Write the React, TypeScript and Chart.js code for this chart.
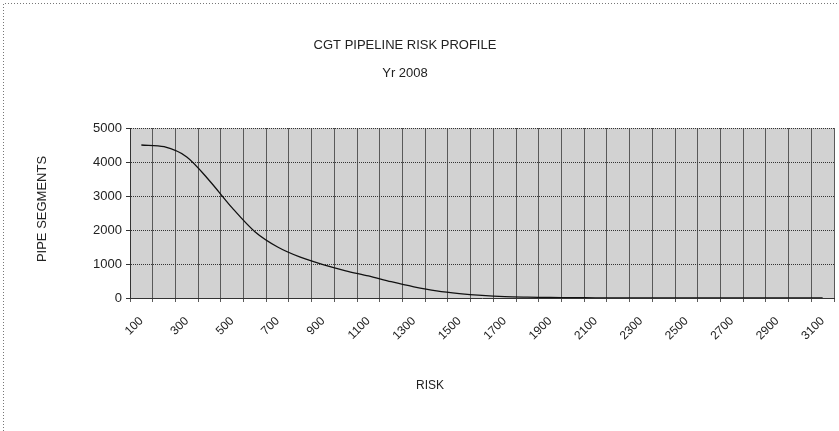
import React, { useEffect, useRef } from 'react';
import { Chart, registerables } from 'chart.js';

Chart.register(...registerables);

const riskCategories = [
  '100', '200', '300', '400', '500', '600', '700', '800', '900', '1000',
  '1100', '1200', '1300', '1400', '1500', '1600', '1700', '1800', '1900', '2000',
  '2100', '2200', '2300', '2400', '2500', '2600', '2700', '2800', '2900', '3000', '3100',
];
const pipeSegments = [
  4500, 4450, 4150, 3450, 2650, 1950, 1500, 1200, 980, 800,
  650, 480, 330, 210, 130, 75, 40, 25, 15, 10,
  5, 5, 0, 0, 0, 0, 0, 0, 0, 0, 0,
];
const yTickValues = [0, 1000, 2000, 3000, 4000, 5000];
const titleLines = ['CGT PIPELINE RISK PROFILE', 'Yr 2008'];
const xAxisTitle = 'RISK';
const yAxisTitle = 'PIPE SEGMENTS';

const FONT = "'Liberation Sans', Arial, sans-serif";

const decorPlugin = {
  id: 'decor',
  beforeDraw(chart: any) {
    const { ctx, chartArea } = chart;
    ctx.save();
    ctx.fillStyle = '#ffffff';
    ctx.fillRect(0, 0, chart.width, chart.height);
    ctx.fillStyle = '#d2d2d2';
    ctx.fillRect(chartArea.left, chartArea.top, chartArea.right - chartArea.left, chartArea.bottom - chartArea.top);
    ctx.strokeStyle = '#777';
    ctx.setLineDash([1, 2]);
    ctx.lineWidth = 1;
    ctx.beginPath();
    ctx.moveTo(3.5, chart.height);
    ctx.lineTo(3.5, 3.5);
    ctx.lineTo(chart.width, 3.5);
    ctx.stroke();
    ctx.restore();
  },
  afterDraw(chart: any) {
    const { ctx, chartArea } = chart;
    ctx.save();
    ctx.fillStyle = '#222';
    ctx.textAlign = 'center';
    ctx.textBaseline = 'middle';
    ctx.font = `13px ${FONT}`;
    ctx.fillText(titleLines[0], 405, 45);
    ctx.fillText(titleLines[1], 405, 73);
    ctx.font = `12px ${FONT}`;
    ctx.fillText(xAxisTitle, 430, 386);
    ctx.translate(42, (chartArea.top + chartArea.bottom) / 2 - 4);
    ctx.rotate(-Math.PI / 2);
    ctx.font = `13px ${FONT}`;
    ctx.fillText(yAxisTitle, 0, 0);
    ctx.restore();
  },
};

export default function App() {
  const canvasRef = useRef<HTMLCanvasElement | null>(null);

  useEffect(() => {
    document.body.style.margin = '0';
    const canvas = canvasRef.current;
    if (!canvas) return;
    const chart = new Chart(canvas, {
      type: 'line',
      data: {
        labels: riskCategories,
        datasets: [
          {
            data: pipeSegments,
            borderColor: '#111',
            borderWidth: 1.3,
            pointRadius: 0,
            tension: 0.3,
            fill: false,
          },
        ],
      },
      options: {
        responsive: false,
        animation: false,
        devicePixelRatio: 1,
        layout: { padding: { top: 128, right: 5, left: 0, bottom: 0 } },
        plugins: {
          legend: { display: false },
          title: { display: false },
          tooltip: { enabled: false },
        },
        scales: {
          x: {
            type: 'category',
            offset: true,
            grid: { offset: true, color: '#5a5a5a', lineWidth: 1, drawTicks: true, tickLength: 4 },
            border: { display: true, color: '#333' },
            ticks: {
              autoSkip: false,
              maxRotation: 45,
              minRotation: 45,
              color: '#222',
              font: { family: FONT, size: 12 },
              padding: 12,
              callback: (_v: any, i: number) => (i % 2 === 0 ? riskCategories[i] : ''),
            },
            afterFit: (s: any) => {
              s.height = 431 - 298;
              s.paddingRight = 0;
              s.paddingLeft = 0;
            },
          },
          y: {
            min: 0,
            max: 5000,
            afterBuildTicks: (s: any) => {
              s.ticks = yTickValues.map((v) => ({ value: v }));
            },
            grid: { color: '#333', lineWidth: 1, tickLength: 4 },
            border: { display: true, color: '#333', dash: [1, 1] },
            ticks: {
              color: '#222',
              font: { family: FONT, size: 13 },
              padding: 4,
              callback: (v: any) => String(v),
            },
            afterFit: (s: any) => {
              s.width = 130;
            },
          },
        },
      },
      plugins: [decorPlugin],
    });
    return () => chart.destroy();
  }, []);

  return (
    <div style={{ width: 839, height: 431 }}>
      <canvas ref={canvasRef} width={839} height={431} />
    </div>
  );
}
